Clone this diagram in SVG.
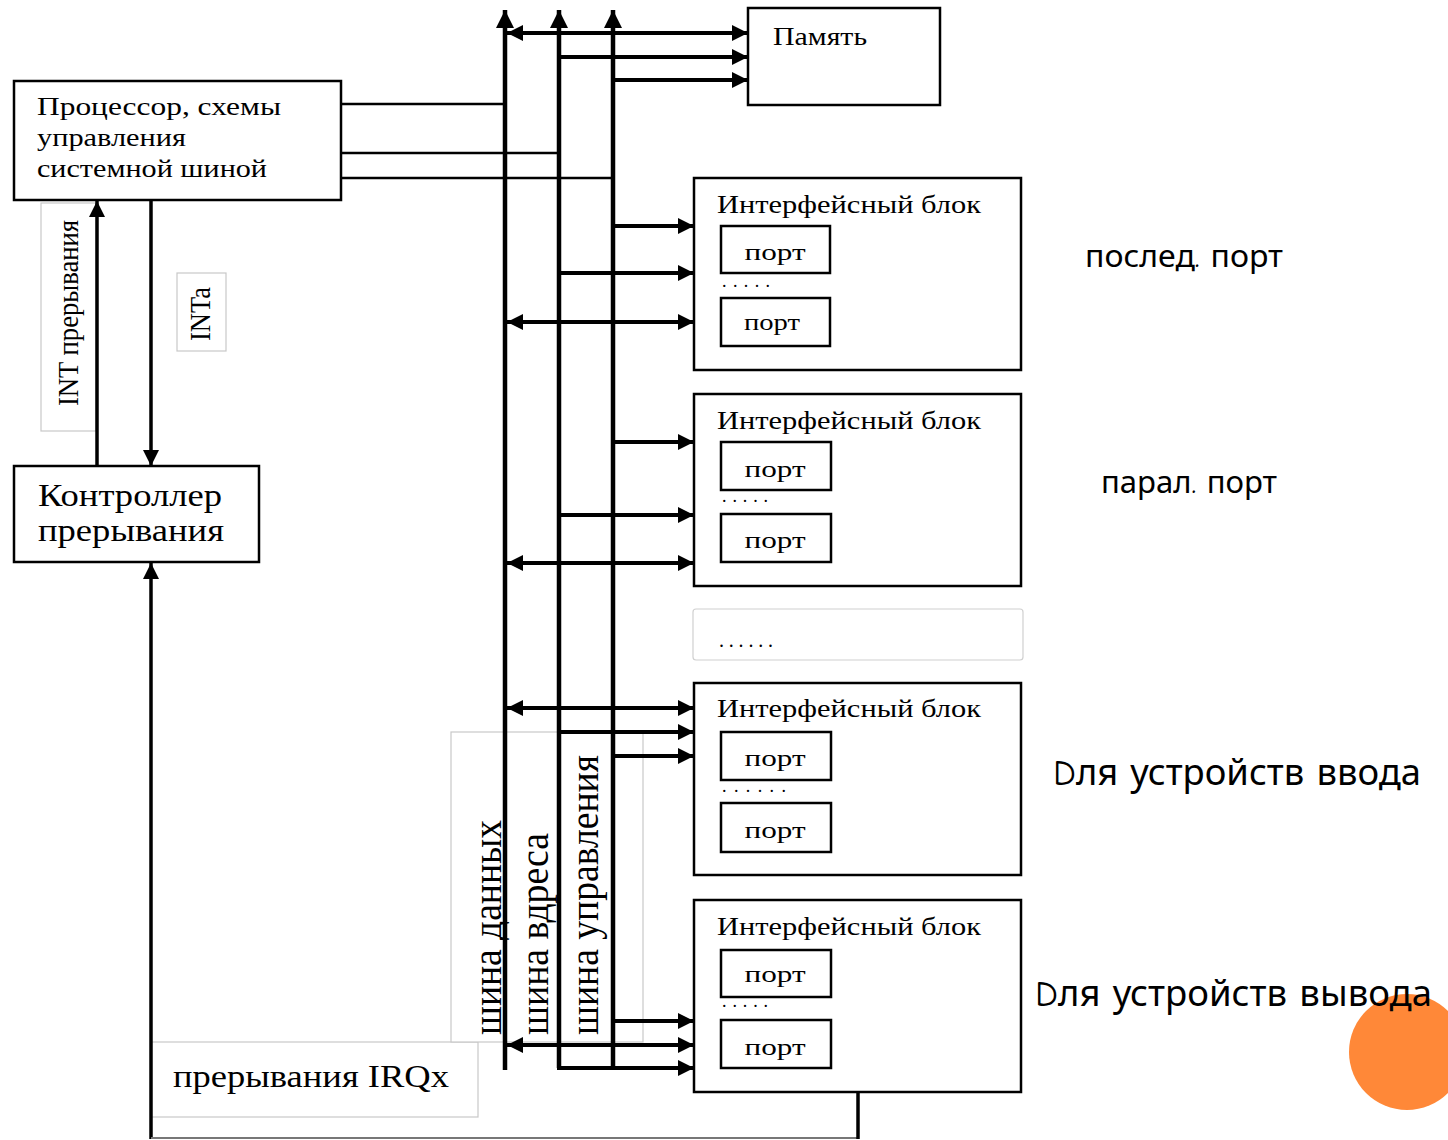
<svg xmlns="http://www.w3.org/2000/svg" width="1448" height="1140" viewBox="0 0 1448 1140">
<defs>
<marker id="ah" viewBox="0 0 16 16" refX="16" refY="8" markerWidth="16" markerHeight="16" markerUnits="userSpaceOnUse" orient="auto-start-reverse">
<path d="M0,0 L16,8 L0,16 z" fill="#000"/>
</marker>
<marker id="ahs" viewBox="0 0 18 18" refX="18" refY="9" markerWidth="18" markerHeight="18" markerUnits="userSpaceOnUse" orient="auto-start-reverse">
<path d="M0,0 L18,9 L0,18 z" fill="#000"/>
</marker>
</defs>
<style>
.box{fill:#fff;stroke:#000;stroke-width:2.5}
.gbox{fill:#fff;stroke:#c8c8c8;stroke-width:1.2}
.t{font-family:"Liberation Serif","DejaVu Serif",serif;fill:#000}
.c{font-family:"Comic Sans MS","Comic Neue","Noto Sans","DejaVu Sans",sans-serif;fill:#000}
.bus{stroke:#000;stroke-width:4.5;fill:none}
.con{stroke:#000;stroke-width:4;fill:none}
.thin{stroke:#000;stroke-width:2.5;fill:none}
.mid{stroke:#000;stroke-width:3.5;fill:none}
</style>
<rect width="1448" height="1140" fill="#fff"/>
<circle cx="1407" cy="1052" r="58" fill="#FF8838"/>

<g id="label-int">
<rect class="gbox" x="41" y="203" width="55" height="228"/>
<text class="t" transform="translate(78,406) rotate(-90)" font-size="29" textLength="186" lengthAdjust="spacingAndGlyphs">INT прерывания</text>
</g>
<g id="label-inta">
<rect class="gbox" x="177" y="273" width="49" height="78"/>
<text class="t" transform="translate(210,341) rotate(-90)" font-size="29" textLength="54" lengthAdjust="spacingAndGlyphs">INTa</text>
</g>
<g id="label-irq">
<rect class="gbox" x="151" y="1042" width="327" height="75"/>
<text class="t" x="173" y="1087" font-size="32" textLength="276" lengthAdjust="spacingAndGlyphs">прерывания IRQx</text>
</g>
<g id="label-buses">
<rect class="gbox" x="451" y="732" width="192" height="310"/>
<text class="t" transform="translate(501,1035) rotate(-90)" font-size="40" textLength="215" lengthAdjust="spacingAndGlyphs">шина данных</text>
<text class="t" transform="translate(548,1035) rotate(-90)" font-size="40" textLength="202" lengthAdjust="spacingAndGlyphs">шина вдреса</text>
<text class="t" transform="translate(598,1035) rotate(-90)" font-size="40" textLength="280" lengthAdjust="spacingAndGlyphs">шина управления</text>
</g>

<g id="processor">
<rect class="box" x="14" y="81" width="327" height="119"/>
<text class="t" x="37" y="115" font-size="26" textLength="244" lengthAdjust="spacingAndGlyphs">Процессор,  схемы</text>
<text class="t" x="37" y="146" font-size="26" textLength="149" lengthAdjust="spacingAndGlyphs">управления</text>
<text class="t" x="37" y="177" font-size="26" textLength="230" lengthAdjust="spacingAndGlyphs">системной шиной</text>
</g>
<g id="controller">
<rect class="box" x="14" y="466" width="245" height="96"/>
<text class="t" x="38" y="506" font-size="32" textLength="184" lengthAdjust="spacingAndGlyphs">Контроллер</text>
<text class="t" x="38" y="541" font-size="32" textLength="186" lengthAdjust="spacingAndGlyphs">прерывания</text>
</g>
<g id="memory">
<rect class="box" x="748" y="8" width="192" height="97"/>
<text class="t" x="773" y="45" font-size="26" textLength="94" lengthAdjust="spacingAndGlyphs">Память</text>
</g>

<g id="block1">
<rect class="box" x="694" y="178" width="327" height="192"/>
<text class="t" x="717" y="213" font-size="26" textLength="264" lengthAdjust="spacingAndGlyphs">Интерфейсный блок</text>
<rect class="box" x="721" y="226" width="109" height="47"/>
<text class="t" x="775" y="260" font-size="24" text-anchor="middle" textLength="61" lengthAdjust="spacingAndGlyphs">порт</text>
<text class="t" x="722" y="287" font-size="18" textLength="48" lengthAdjust="spacing">.....</text>
<rect class="box" x="721" y="298" width="109" height="48"/>
<text class="t" x="772" y="330" font-size="24" text-anchor="middle" textLength="56" lengthAdjust="spacingAndGlyphs">порт</text>
</g>
<g id="block2">
<rect class="box" x="694" y="394" width="327" height="192"/>
<text class="t" x="717" y="429" font-size="26" textLength="264" lengthAdjust="spacingAndGlyphs">Интерфейсный блок</text>
<rect class="box" x="721" y="442" width="110" height="48"/>
<text class="t" x="775" y="477" font-size="24" text-anchor="middle" textLength="61" lengthAdjust="spacingAndGlyphs">порт</text>
<text class="t" x="722" y="502" font-size="18" textLength="46" lengthAdjust="spacing">.....</text>
<rect class="box" x="721" y="514" width="110" height="48"/>
<text class="t" x="775" y="548" font-size="24" text-anchor="middle" textLength="61" lengthAdjust="spacingAndGlyphs">порт</text>
</g>
<g id="gap">
<rect x="693" y="609" width="330" height="51" rx="3" fill="#fff" stroke="#d0d0d0" stroke-width="1.2"/>
<text class="t" x="719" y="647" font-size="20" textLength="54" lengthAdjust="spacing">......</text>
</g>
<g id="block3">
<rect class="box" x="694" y="683" width="327" height="192"/>
<text class="t" x="717" y="717" font-size="26" textLength="264" lengthAdjust="spacingAndGlyphs">Интерфейсный блок</text>
<rect class="box" x="721" y="732" width="110" height="48"/>
<text class="t" x="775" y="766" font-size="24" text-anchor="middle" textLength="61" lengthAdjust="spacingAndGlyphs">порт</text>
<text class="t" x="722" y="792" font-size="18" textLength="64" lengthAdjust="spacing">......</text>
<rect class="box" x="721" y="803" width="110" height="49"/>
<text class="t" x="775" y="838" font-size="24" text-anchor="middle" textLength="61" lengthAdjust="spacingAndGlyphs">порт</text>
</g>
<g id="block4">
<rect class="box" x="694" y="900" width="327" height="192"/>
<text class="t" x="717" y="935" font-size="26" textLength="264" lengthAdjust="spacingAndGlyphs">Интерфейсный блок</text>
<rect class="box" x="721" y="950" width="110" height="47"/>
<text class="t" x="775" y="982" font-size="24" text-anchor="middle" textLength="61" lengthAdjust="spacingAndGlyphs">порт</text>
<text class="t" x="722" y="1007" font-size="18" textLength="46" lengthAdjust="spacing">.....</text>
<rect class="box" x="721" y="1020" width="110" height="48"/>
<text class="t" x="775" y="1055" font-size="24" text-anchor="middle" textLength="61" lengthAdjust="spacingAndGlyphs">порт</text>
</g>

<g id="notes">
<text class="c" x="1085" y="267" font-size="30" textLength="198" lengthAdjust="spacingAndGlyphs">послед. порт</text>
<text class="c" x="1101" y="493" font-size="30" textLength="176" lengthAdjust="spacingAndGlyphs">парал. порт</text>
<text class="c" x="1053" y="785" font-size="37" textLength="368" lengthAdjust="spacingAndGlyphs">Dля устройств ввода</text>
<text class="c" x="1035" y="1006" font-size="37" textLength="397" lengthAdjust="spacingAndGlyphs">Dля устройств вывода</text>
</g>

<g id="connectors">
<!-- buses -->
<path class="bus" d="M505,1070 V10" marker-end="url(#ahs)"/>
<path class="bus" d="M559,1068 V10" marker-end="url(#ahs)"/>
<path class="bus" d="M613,1068 V10" marker-end="url(#ahs)"/>
<!-- processor to buses -->
<path class="thin" d="M341,104 H505"/>
<path class="thin" d="M341,153 H559"/>
<path class="thin" d="M341,178 H613"/>
<!-- memory -->
<path class="con" d="M507,33 H748" marker-start="url(#ah)" marker-end="url(#ah)"/>
<path class="con" d="M559,57 H748" marker-end="url(#ah)"/>
<path class="con" d="M613,80 H748" marker-end="url(#ah)"/>
<!-- block1 -->
<path class="con" d="M613,226 H694" marker-end="url(#ah)"/>
<path class="con" d="M559,273 H694" marker-end="url(#ah)"/>
<path class="con" d="M507,322 H694" marker-start="url(#ah)" marker-end="url(#ah)"/>
<!-- block2 -->
<path class="con" d="M613,442 H694" marker-end="url(#ah)"/>
<path class="con" d="M559,515 H694" marker-end="url(#ah)"/>
<path class="con" d="M507,563 H694" marker-start="url(#ah)" marker-end="url(#ah)"/>
<!-- block3 -->
<path class="con" d="M507,708 H694" marker-start="url(#ah)" marker-end="url(#ah)"/>
<path class="con" d="M559,732 H694" marker-end="url(#ah)"/>
<path class="con" d="M613,756 H694" marker-end="url(#ah)"/>
<!-- block4 -->
<path class="con" d="M613,1021 H694" marker-end="url(#ah)"/>
<path class="con" d="M507,1045 H694" marker-start="url(#ah)" marker-end="url(#ah)"/>
<path class="con" d="M557,1068 H694" marker-end="url(#ah)"/>
<!-- interrupts -->
<path class="mid" d="M97,466 V201" marker-end="url(#ah)"/>
<path class="mid" d="M151,200 V466" marker-end="url(#ah)"/>
<path class="mid" d="M151,1139 V563" marker-end="url(#ah)"/>
<path d="M151,1138 H858" stroke="#777" stroke-width="2" fill="none"/>
<path class="mid" d="M858,1092 V1139"/>
</g>
</svg>
